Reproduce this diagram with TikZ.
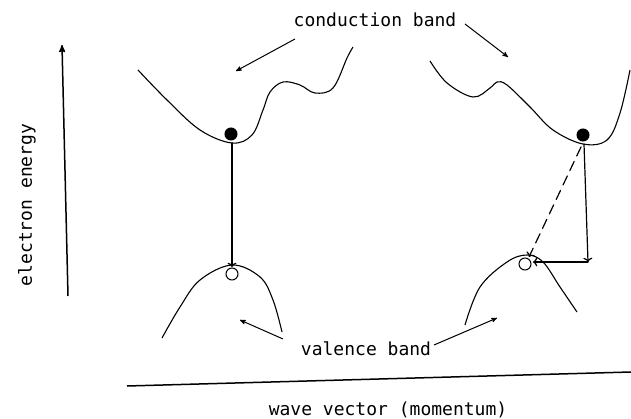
\documentclass[tikz,border=0pt]{standalone}
\usepackage{fontspec}
\newfontfamily\bandfont{DejaVu Sans Mono}
\usetikzlibrary{arrows,calc}
\usepackage{tkz-euclide}

\tikzset{band/.style={line width=1.1pt},
  lbl/.style={font=\bandfont\fontsize{18}{20}\selectfont,inner sep=0pt},
  pointer/.style={line width=1pt,-stealth'},
  axis/.style={line width=1.5pt}}

\begin{document}
\begin{tikzpicture}[x=1pt,y=-1pt]
\tkzSetUpLine[line width=1.1pt,color=black]
\useasboundingbox (0,0) rectangle (631,419);

% axes
\tkzDefPoints{68/296/E1,62/45/E2,127/386/K1,631/372/K2}
% electrons and holes
\tkzDefPoints{231/134/eL,237/134/eLr,232/274/hL,238/274/hLr}
\tkzDefPoints{583/135/eR,589/135/eRr,525/264/hR,531/264/hRr}
% transitions
\tkzDefPoints{232/143/tL1,232/267/tL2}
\tkzDefPoints{584/144/tR1,588/262/tR2,533/262/tR3,581/147/dR1,529/257/dR2}
% label pointers
\tkzDefPoints{295/39/pA,236/71/pB,465/24/pC,508/57/pD}
\tkzDefPoints{283/339/pE,240/320/pF,434/345/pG,497/318/pH}

\draw[band] plot[smooth,tension=.6] coordinates {(138,70) (167,100) (200,130)
  (232,143) (252,135) (263,110) (270,92) (283,82) (300,85) (315,93)
  (333,88) (347,58) (353,47)};
\draw[band] plot[smooth,tension=.6] coordinates {(430,61) (447,83) (473,97)
  (490,88) (497,82) (507,85) (530,107) (553,130) (583,144) (607,140)
  (620,113) (630,70)};
\draw[band] plot[smooth,tension=.6] coordinates {(162,338) (180,307)
  (200,280) (232,265) (260,277) (273,300) (282,332)};
\draw[band] plot[smooth,tension=.6] coordinates {(465,325) (480,287)
  (507,262) (527,255) (543,262) (560,287) (577,312)};

\draw[axis,-stealth'] (E1) -- (E2);
\draw[axis] (K1) -- (K2);
\tkzDrawSegments[line width=1.2pt,color=black,->](tL1,tL2 tR1,tR2 tR2,tR3)
\tkzDrawSegment[line width=1.2pt,color=black,dashed,
  dash pattern=on 10pt off 6pt,->](dR1,dR2)

\tkzDrawCircle[line width=1pt,color=black,fill=black](eL,eLr)
\tkzDrawCircle[line width=1pt,color=black,fill=black](eR,eRr)
\tkzDrawCircle[line width=1pt,color=black,fill=white](hL,hLr)
\tkzDrawCircle[line width=1pt,color=black,fill=white](hR,hRr)

\node[lbl,anchor=base] (cb) at (375,27) {conduction band};
\node[lbl,anchor=base] (vb) at (366,355) {valence band};
\node[lbl,anchor=base] (wv) at (388,415) {wave vector (momentum)};
\node[lbl,rotate=90] (ee) at (27,205) {electron energy};

\draw[pointer] (pA) -- (pB);
\draw[pointer] (pC) -- (pD);
\draw[pointer] (pE) -- (pF);
\draw[pointer] (pG) -- (pH);

\end{tikzpicture}
\end{document}
